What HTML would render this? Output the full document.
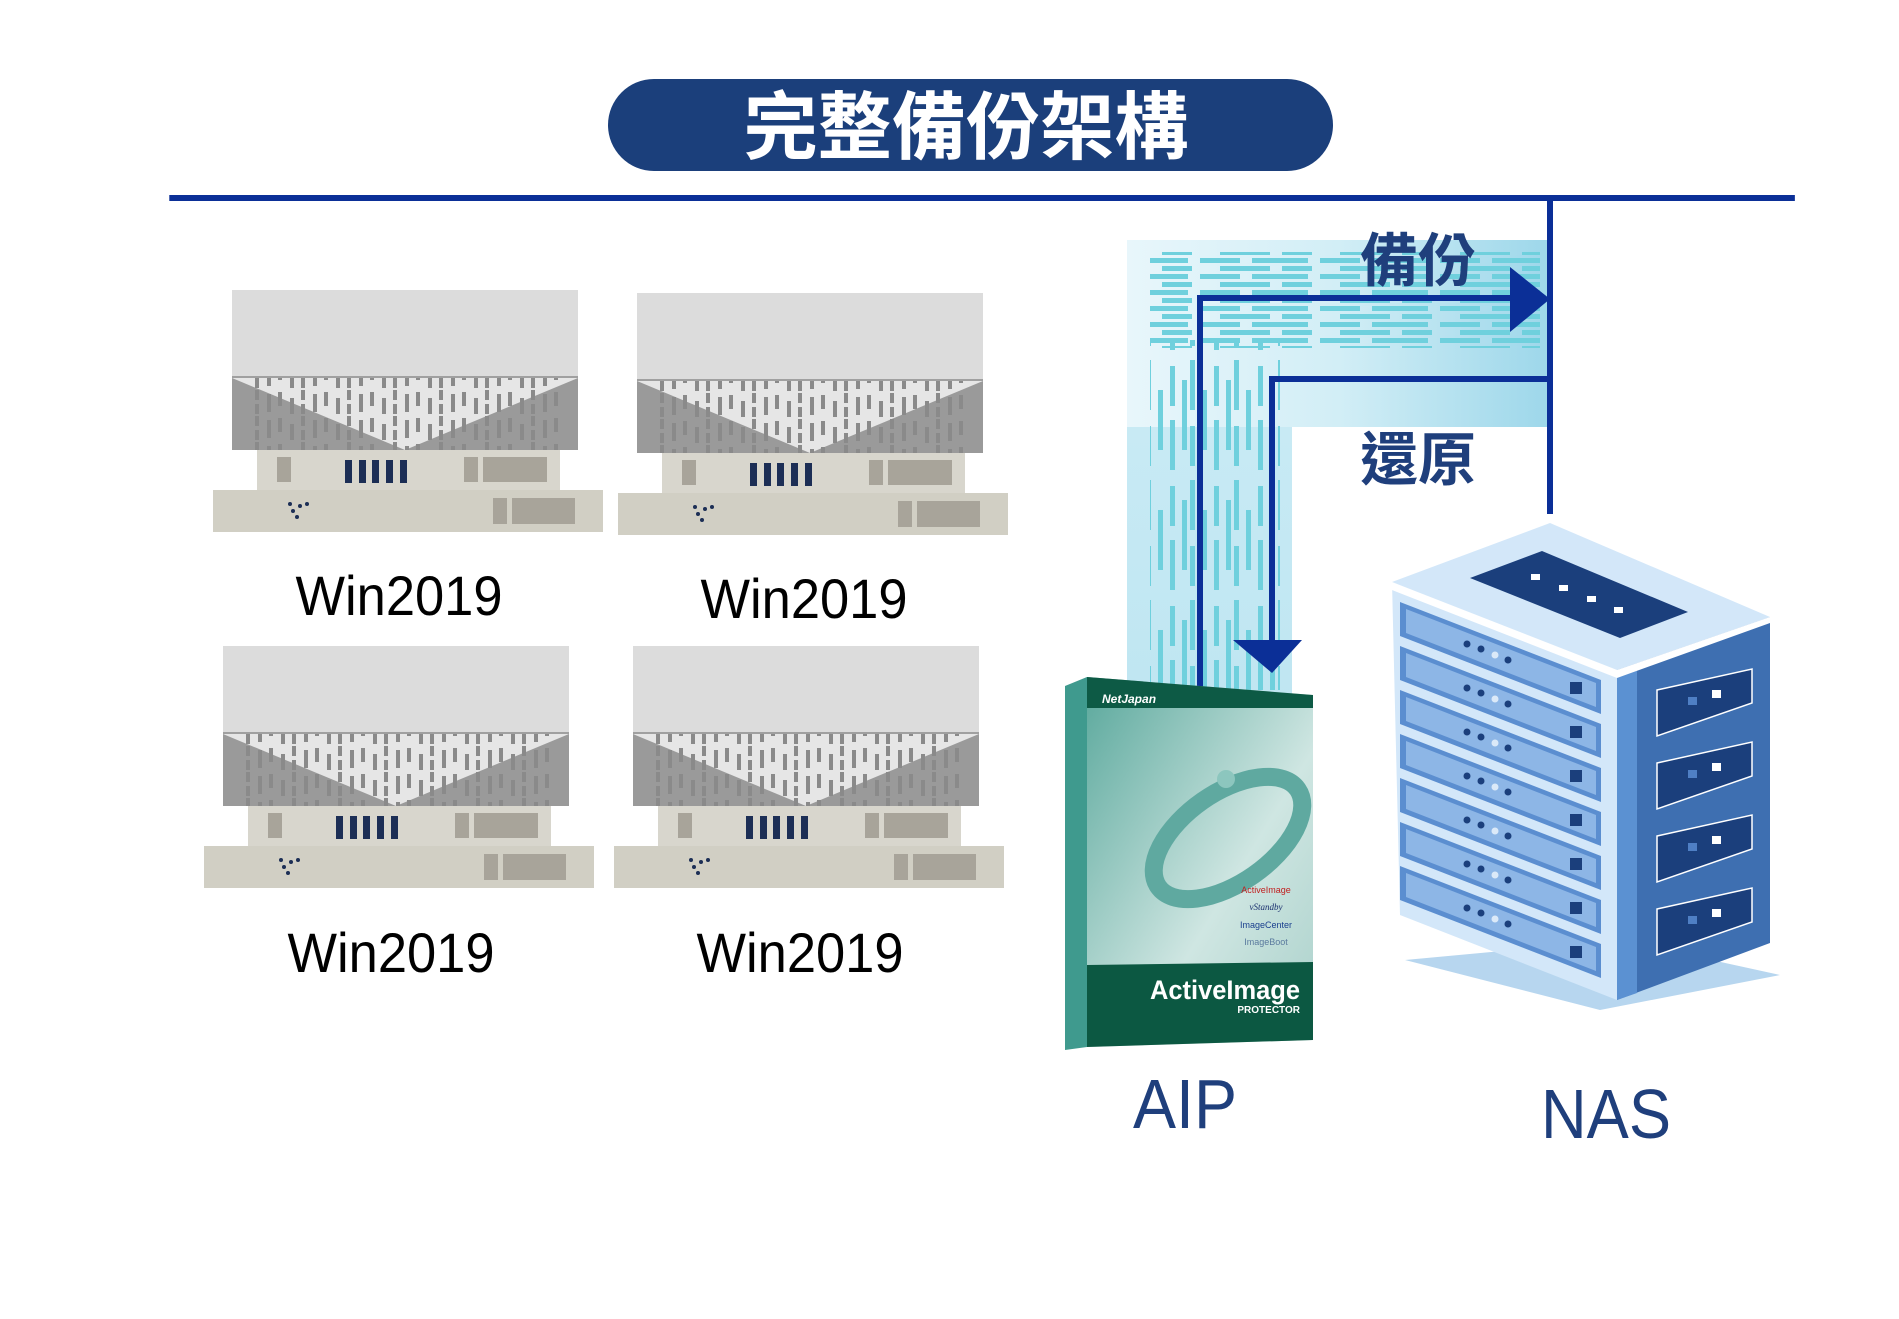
<!DOCTYPE html>
<html><head><meta charset="utf-8"><style>
html,body{margin:0;padding:0;background:#fff;}
svg{display:block;}
</style></head><body>
<svg width="1899" height="1319" viewBox="0 0 1899 1319" xmlns="http://www.w3.org/2000/svg">
<defs>
  <linearGradient id="hband" x1="0" x2="1" y1="0" y2="0">
    <stop offset="0" stop-color="#e8f6fb"/><stop offset="0.5" stop-color="#d2eef6"/><stop offset="1" stop-color="#9dd7ea"/>
  </linearGradient>
  <linearGradient id="vband" x1="0" x2="0" y1="0" y2="1">
    <stop offset="0" stop-color="#c8eaf4"/><stop offset="1" stop-color="#bfe6f2"/>
  </linearGradient>
  <pattern id="dashes" x="0" y="0" width="46" height="26" patternUnits="userSpaceOnUse">
    <rect x="2" y="2" width="4" height="14" fill="#8a8a8a"/>
    <rect x="14" y="8" width="4" height="16" fill="#8a8a8a"/>
    <rect x="25" y="0" width="4" height="10" fill="#8a8a8a"/>
    <rect x="25" y="14" width="4" height="10" fill="#8a8a8a"/>
    <rect x="37" y="4" width="4" height="18" fill="#8a8a8a"/>
  </pattern>
  <pattern id="hd" x="0" y="0" width="120" height="16" patternUnits="userSpaceOnUse">
    <rect x="0" y="2" width="40" height="5" fill="#6fd0dd"/>
    <rect x="52" y="2" width="56" height="5" fill="#6fd0dd"/>
    <rect x="20" y="10" width="50" height="5" fill="#6fd0dd"/>
    <rect x="82" y="10" width="30" height="5" fill="#6fd0dd"/>
  </pattern>
  <pattern id="vd" x="0" y="0" width="44" height="120" patternUnits="userSpaceOnUse">
    <rect x="2" y="0" width="5" height="50" fill="#6fd0dd"/>
    <rect x="14" y="30" width="5" height="60" fill="#6fd0dd"/>
    <rect x="26" y="6" width="5" height="40" fill="#6fd0dd"/>
    <rect x="26" y="60" width="5" height="50" fill="#6fd0dd"/>
    <rect x="38" y="20" width="5" height="70" fill="#6fd0dd"/>
    <rect x="2" y="66" width="5" height="40" fill="#6fd0dd"/>
  </pattern>
  <g id="srv">
    <rect x="232" y="290" width="346" height="88" fill="#dcdcdc"/>
    <rect x="232" y="376" width="346" height="2" fill="#a0a0a0"/>
    <rect x="232" y="378" width="346" height="72" fill="#e6e6e6"/>
    <polygon points="232,378 405,450 232,450" fill="#9a9a9a"/>
    <polygon points="578,378 578,450 405,450" fill="#9a9a9a"/>
    <rect x="252" y="378" width="310" height="72" fill="url(#dashes)"/>
    <rect x="257" y="450" width="303" height="40" fill="#d8d6cd"/>
    <rect x="277" y="457" width="14" height="25" fill="#a8a49a"/>
    <rect x="345" y="460" width="7" height="23" fill="#1c2e55"/>
    <rect x="359" y="460" width="7" height="23" fill="#1c2e55"/>
    <rect x="372" y="460" width="7" height="23" fill="#1c2e55"/>
    <rect x="386" y="460" width="7" height="23" fill="#1c2e55"/>
    <rect x="400" y="460" width="7" height="23" fill="#1c2e55"/>
    <rect x="464" y="457" width="14" height="25" fill="#a8a49a"/>
    <rect x="483" y="457" width="64" height="25" fill="#a8a49a"/>
    <rect x="213" y="490" width="390" height="42" fill="#d1cfc4"/>
    <rect x="493" y="498" width="14" height="26" fill="#a8a49a"/>
    <rect x="512" y="498" width="63" height="26" fill="#a8a49a"/>
    <circle cx="290" cy="504" r="2" fill="#1c2e55"/><circle cx="300" cy="506" r="2" fill="#1c2e55"/>
    <circle cx="293" cy="511" r="2" fill="#1c2e55"/><circle cx="297" cy="517" r="2" fill="#1c2e55"/>
    <circle cx="307" cy="504" r="2" fill="#1c2e55"/>
  </g>
</defs>

<!-- title -->
<rect x="608" y="79" width="725" height="92" rx="46" fill="#1b3f7b"/>
<text x="966" y="153" text-anchor="middle" font-family="'Liberation Sans','Noto Sans CJK TC',sans-serif" font-size="74" font-weight="bold" fill="#fff" textLength="445" lengthAdjust="spacingAndGlyphs">完整備份架構</text>
<rect x="169" y="195" width="1642" height="6" fill="#0b2f97" transform="scale(0.99,1) translate(2,0)"/>

<!-- bands -->
<rect x="1127" y="240" width="423" height="187" fill="url(#hband)"/>
<rect x="1127" y="427" width="165" height="275" fill="url(#vband)"/>
<rect x="1150" y="252" width="390" height="96" fill="url(#hd)"/>
<rect x="1150" y="340" width="130" height="350" fill="url(#vd)"/>

<!-- lines -->
<rect x="1547" y="198" width="6" height="316" fill="#0b2f97"/>
<rect x="1197" y="295" width="320" height="6" fill="#0b2f97"/>
<rect x="1197" y="295" width="6" height="400" fill="#0b2f97"/>
<polygon points="1510,267 1550,299 1510,332" fill="#0b2f97"/>
<rect x="1269" y="376" width="281" height="6" fill="#0b2f97"/>
<rect x="1269" y="376" width="6" height="270" fill="#0b2f97"/>
<polygon points="1233,640 1302,640 1272,673" fill="#0b2f97"/>

<text x="1418" y="281" text-anchor="middle" font-family="'Liberation Sans','Noto Sans CJK TC',sans-serif" font-size="58" font-weight="bold" fill="#1f3f7c">備份</text>
<text x="1418" y="480" text-anchor="middle" font-family="'Liberation Sans','Noto Sans CJK TC',sans-serif" font-size="58" font-weight="bold" fill="#1f3f7c">還原</text>

<!-- servers -->
<use href="#srv"/>
<use href="#srv" transform="translate(405,3)"/>
<use href="#srv" transform="translate(-9,356)"/>
<use href="#srv" transform="translate(401,356)"/>
<g font-family="'Liberation Sans',sans-serif" font-size="56" fill="#000" text-anchor="middle">
<text x="399" y="615" textLength="207" lengthAdjust="spacingAndGlyphs">Win2019</text>
<text x="804" y="618" textLength="207" lengthAdjust="spacingAndGlyphs">Win2019</text>
<text x="391" y="972" textLength="207" lengthAdjust="spacingAndGlyphs">Win2019</text>
<text x="800" y="972" textLength="207" lengthAdjust="spacingAndGlyphs">Win2019</text>
</g>

<!-- AIP box -->
<polygon points="1065,686 1087,677 1087,1047 1065,1050" fill="#3f9a8e"/>
<linearGradient id="boxg" x1="0" y1="0" x2="1" y2="1"><stop offset="0" stop-color="#5aa89c"/><stop offset="0.6" stop-color="#cfe6e2"/><stop offset="1" stop-color="#a9d0ca"/></linearGradient>
<polygon points="1087,677 1313,695 1313,1040 1087,1047" fill="url(#boxg)"/>
<polygon points="1087,677 1313,695 1313,708 1087,708" fill="#0d5a45"/>
<rect x="1087" y="702" width="226" height="6" fill="#0d5a45"/>
<polygon points="1087,965 1313,962 1313,1040 1087,1047" fill="#0c5842"/>
<ellipse cx="1228" cy="838" rx="85" ry="45" transform="rotate(-35 1228 838)" fill="none" stroke="#5fa9a0" stroke-width="18"/>
<circle cx="1226" cy="779" r="9" fill="#8cc6be"/>
<text x="1102" y="703" font-family="'Liberation Sans',sans-serif" font-size="12" font-style="italic" font-weight="bold" fill="#fff">NetJapan</text>
<text x="1266" y="893" font-family="'Liberation Sans',sans-serif" font-size="9" fill="#c02020" text-anchor="middle">ActiveImage</text>
<text x="1266" y="910" font-family="'Liberation Serif',serif" font-size="9" font-style="italic" fill="#1a2f6e" text-anchor="middle">vStandby</text>
<text x="1266" y="928" font-family="'Liberation Sans',sans-serif" font-size="9" fill="#1a3f8e" text-anchor="middle">ImageCenter</text>
<text x="1266" y="945" font-family="'Liberation Sans',sans-serif" font-size="9" fill="#5a7a9e" text-anchor="middle">ImageBoot</text>
<text x="1300" y="999" font-family="'Liberation Sans',sans-serif" font-size="27" font-weight="bold" fill="#fff" text-anchor="end" textLength="150" lengthAdjust="spacingAndGlyphs">ActiveImage</text>
<text x="1300" y="1013" font-family="'Liberation Sans',sans-serif" font-size="10" font-weight="bold" fill="#fff" text-anchor="end">PROTECTOR</text>
<text x="1185" y="1128" text-anchor="middle" font-family="'Liberation Sans',sans-serif" font-size="70" fill="#1f3f7c" textLength="104" lengthAdjust="spacingAndGlyphs">AIP</text>

<!-- NAS -->
<polygon points="1405,960 1600,1010 1780,975 1620,940" fill="#b7d6ef"/>
<polygon points="1617,670 1770,617 1770,943 1617,1000" fill="#3e6fb1"/>
<polygon points="1617,670 1637,663 1637,993 1617,1000" fill="#5b91d2"/>
<polygon points="1392,582 1617,670 1617,1000 1400,915" fill="#d3e7f9"/>
<polygon points="1392,582 1550,523 1770,617 1617,670" fill="#d3e7f9"/>
<polygon points="1392,582 1617,670 1770,617 1770,623 1617,678 1392,590" fill="#ffffff"/>
<polygon points="1470,578 1542,551 1688,612 1620,638" fill="#1b3f7c"/>
<g fill="#fff"><rect x="1531" y="574" width="9" height="6"/><rect x="1559" y="585" width="9" height="6"/><rect x="1587" y="596" width="9" height="6"/><rect x="1614" y="607" width="9" height="6"/></g>
<g id="slot">
  <polygon points="1400,602 1601,680 1601,714 1400,636" fill="#5b8ed0"/>
  <polygon points="1406,609 1596,683 1596,707 1406,633" fill="#8db6e6"/>
  <circle cx="1467" cy="644" r="3.5" fill="#1b3f7c"/><circle cx="1481" cy="649" r="3.5" fill="#1b3f7c"/><circle cx="1495" cy="655" r="3.5" fill="#dbe9f8"/><circle cx="1508" cy="660" r="3.5" fill="#1b3f7c"/>
  <rect x="1570" y="682" width="12" height="12" fill="#1b3f7c"/>
</g>
<use href="#slot" transform="translate(0,44)"/>
<use href="#slot" transform="translate(0,88)"/>
<use href="#slot" transform="translate(0,132)"/>
<use href="#slot" transform="translate(0,176)"/>
<use href="#slot" transform="translate(0,220)"/>
<use href="#slot" transform="translate(0,264)"/>
<g id="rs">
  <polygon points="1657,690 1752,669 1752,703 1657,736" fill="#1b3f7c" stroke="#fff" stroke-width="1.5"/>
  <rect x="1688" y="697" width="9" height="8" fill="#4f7fc4"/><rect x="1712" y="690" width="9" height="8" fill="#fff"/>
</g>
<use href="#rs" transform="translate(0,73)"/>
<use href="#rs" transform="translate(0,146)"/>
<use href="#rs" transform="translate(0,219)"/>
<text x="1606" y="1138" text-anchor="middle" font-family="'Liberation Sans',sans-serif" font-size="70" fill="#1f3f7c" textLength="130" lengthAdjust="spacingAndGlyphs">NAS</text>
</svg>
</body></html>
